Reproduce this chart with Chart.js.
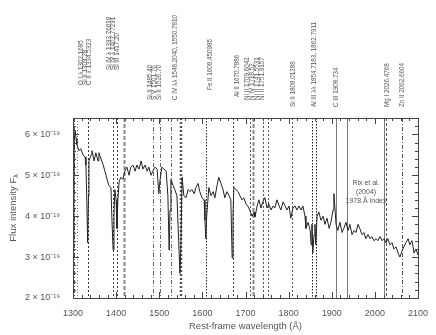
<!DOCTYPE html>
<html>
<head>
<meta charset="utf-8">
<script src="https://cdn.jsdelivr.net/npm/chart.js@4.4.1/dist/chart.umd.min.js"></script>
<style>
  html, body { margin: 0; padding: 0; background: #fff; }
  #wrap { width: 436px; height: 335px; }
</style>
</head>
<body>
<div id="wrap"><canvas id="chartSpec" width="436" height="335"></canvas></div>
<script>
var wavelengths = [
  1300, 1302, 1303, 1305, 1307, 1309, 1314, 1318, 1323, 1328, 1330, 1332, 1334, 1336, 1337,
  1342, 1344, 1349, 1353, 1358, 1360, 1365, 1370, 1374, 1379, 1383, 1388, 1390, 1393, 1395,
  1397, 1400, 1402, 1404, 1407, 1411, 1416, 1420, 1425, 1430, 1434, 1439, 1444, 1448, 1453,
  1458, 1462, 1467, 1472, 1476, 1481, 1485, 1490, 1495, 1499, 1502, 1506, 1511, 1516, 1520,
  1523, 1525, 1527, 1532, 1536, 1541, 1545, 1548, 1550, 1553, 1557, 1562, 1567, 1571, 1576,
  1581, 1585, 1590, 1594, 1599, 1604, 1606, 1608, 1610, 1615, 1620, 1625, 1629, 1634, 1638,
  1643, 1648, 1652, 1657, 1662, 1666, 1669, 1671, 1673, 1678, 1683, 1687, 1692, 1696, 1701,
  1705, 1710, 1715, 1720, 1722, 1727, 1731, 1736, 1740, 1745, 1750, 1754, 1759, 1764, 1768,
  1773, 1778, 1782, 1787, 1792, 1796, 1801, 1805, 1810, 1815, 1819, 1824, 1829, 1833, 1838,
  1840, 1845, 1850, 1852, 1854, 1856, 1859, 1861, 1863, 1866, 1870, 1875, 1880, 1884, 1889,
  1894, 1898, 1903, 1905, 1907, 1910, 1914, 1919, 1924, 1928, 1933, 1938, 1942, 1947, 1952,
  1956, 1961, 1965, 1970, 1975, 1979, 1984, 1989, 1993, 1998, 2003, 2007, 2012, 2017, 2021,
  2026, 2030, 2035, 2040, 2044, 2049, 2054, 2058, 2063, 2067, 2072, 2077, 2081, 2086, 2091,
  2095, 2100
];
var flux = [
  3.25, 4.40, 5.86, 6.10, 5.90, 5.75, 5.60, 5.65, 5.50, 5.45, 5.25, 4.40, 3.35, 4.50, 5.35,
  5.50, 5.60, 5.35, 5.55, 5.35, 5.55, 5.40, 5.25, 5.10, 4.90, 4.75, 4.70, 4.00, 3.17, 4.00,
  4.65, 4.40, 3.70, 4.40, 4.85, 4.95, 4.90, 5.10, 5.20, 5.00, 5.20, 5.25, 5.10, 5.25, 5.15,
  5.35, 5.15, 5.25, 5.10, 5.20, 5.00, 5.10, 5.20, 5.15, 4.55, 4.90, 5.20, 5.15, 5.10, 4.50,
  3.17, 4.15, 4.90, 4.75, 4.65, 4.50, 3.40, 2.60, 3.17, 4.95, 4.50, 4.45, 4.65, 4.60, 4.65,
  4.55, 4.70, 4.80, 4.60, 4.45, 4.40, 3.90, 3.45, 4.00, 4.70, 4.50, 4.60, 4.45, 4.75, 4.95,
  4.80, 4.65, 4.45, 4.60, 4.50, 4.40, 2.98, 4.00, 4.70, 4.65, 4.60, 4.50, 4.40, 4.45, 4.30,
  4.25, 4.15, 4.00, 4.10, 3.98, 4.25, 4.40, 4.20, 4.35, 4.45, 4.20, 4.30, 4.15, 4.25, 4.20,
  4.40, 4.25, 4.15, 4.35, 4.25, 4.15, 4.25, 3.95, 4.20, 4.25, 4.15, 4.25, 4.15, 4.25, 4.00,
  3.70, 3.85, 3.65, 3.30, 3.80, 3.10, 3.55, 3.80, 3.30, 4.00, 4.10, 3.90, 4.00, 3.80, 3.95,
  3.70, 3.85, 4.15, 4.55, 4.25, 3.80, 3.65, 3.85, 3.60, 3.70, 3.85, 3.65, 3.80, 3.55, 3.65,
  3.60, 3.80, 3.70, 3.55, 3.60, 3.45, 3.55, 3.45, 3.50, 3.40, 3.45, 3.40, 3.50, 3.40, 3.45,
  3.35, 3.45, 3.30, 3.35, 3.20, 3.25, 3.10, 3.00, 3.15, 3.25, 3.35, 3.45, 3.30, 3.40, 3.10,
  3.20, 3.05
];

// lineas de absorcion marcadas (A)
var lineWaves = [
  1302.1685, 1309.28, 1334.5323, 1393.76018, 1402.77291, 1417.20, 1485.40, 1501.76, 1526.70,
  1548.2040, 1550.7810, 1608.450985, 1670.7886, 1709.6042, 1718.52, 1741.5531, 1751.9157,
  1808.01288, 1854.7183, 1862.7911, 1908.734, 2026.4768, 2062.6604
];
var lineLabels = [
  'O I λ 1302.1685', 'Si II 1309.28', 'C II λ 1334.5323',
  'Si IV λ 1393.76018', 'Si IV λ 1402.77291', 'Si III 1417.20',
  'Si II 1485.40', 'S V 1501.76', 'Si II 1526.70',
  'C IV λλ 1548.2040, 1550.7810', 'Fe II 1608.450985', 'Al II 1670.7886',
  'Ni II 1709.6042', 'N IV 1718.52', 'Ni II 1741.5531', 'Ni II 1751.9157',
  'Si II 1808.01288', 'Al III λλ 1854.7183, 1862.7911', 'C III 1908.734',
  'Mg I 2026.4768', 'Zn II 2062.6604'
];
// ventana del indice de Rix et al. (2004)
var rixWindow = [1935, 2020];
var rixText = ['Rix et al.', '(2004)', '1978 Å index'];

var xTicks = [1300, 1400, 1500, 1600, 1700, 1800, 1900, 2000, 2100];
var yTicks = [2, 3, 4, 5, 6];

// estilos de cada linea (mismo orden que lineWaves)
var lineStyles = [
  { dash: [4, 2, 1, 2], color: '#555', w: 1 },
  { dash: [1, 2], color: '#777', w: 1 },
  { dash: [2, 2], color: '#333', w: 1 },
  { dash: [2, 2], color: '#444', w: 1 },
  { dash: [2, 2], color: '#444', w: 1 },
  { dash: [4, 2], color: '#888', w: 2 },
  { dash: [4, 2, 1, 2], color: '#666', w: 1 },
  { dash: [4, 2, 1, 2], color: '#666', w: 1 },
  { dash: [4, 2, 1, 2], color: '#666', w: 1 },
  { dash: [2, 2], color: '#555', w: 1.5 },
  { dash: [2, 2], color: '#555', w: 1.5 },
  { dash: [1.5, 1.5], color: '#222', w: 1 },
  { dash: [2, 2], color: '#444', w: 1 },
  { dash: [2, 2], color: '#555', w: 1 },
  { dash: [4, 2], color: '#888', w: 2 },
  { dash: [2, 2], color: '#555', w: 1 },
  { dash: [2, 2], color: '#555', w: 1 },
  { dash: [2, 2], color: '#555', w: 1 },
  { dash: [1.5, 1.5], color: '#222', w: 1 },
  { dash: [1.5, 1.5], color: '#222', w: 1 },
  { dash: [], color: '#777', w: 1 },
  { dash: [3, 2], color: '#555', w: 1 },
  { dash: [4, 2, 1, 2], color: '#555', w: 1 }
];
// columnas (px) y base (px) de las etiquetas verticales
var labelCol = [81, 85, 89, 109, 113, 117, 150, 154, 159, 175, 210, 237, 247, 252, 257, 262, 293, 314, 336, 387, 402];
var labelBase = [85, 85, 85, 70, 70, 70, 100, 100, 100, 100, 90, 97, 100, 100, 100, 100, 107, 107, 107, 107, 107];

var FONT = "'Liberation Sans', Arial, sans-serif";
var TXT = '#555';

var puntos = [];
for (var i = 0; i < wavelengths.length; i++) {
  puntos.push({ x: wavelengths[i], y: flux[i] });
}

var decorPlugin = {
  id: 'specDecor',
  beforeDatasetsDraw: function (chart) {
    var ctx = chart.ctx, a = chart.chartArea, xs = chart.scales.x;
    ctx.save();
    for (var i = 0; i < lineWaves.length; i++) {
      var st = lineStyles[i];
      var px = Math.round(xs.getPixelForValue(lineWaves[i])) + 0.5;
      ctx.strokeStyle = st.color;
      ctx.lineWidth = st.w;
      ctx.setLineDash(st.dash);
      ctx.beginPath();
      ctx.moveTo(px, a.top);
      ctx.lineTo(px, a.bottom);
      ctx.stroke();
    }
    ctx.setLineDash([]);
    ctx.strokeStyle = '#777';
    ctx.lineWidth = 1;
    for (var j = 0; j < rixWindow.length; j++) {
      var rx = Math.round(xs.getPixelForValue(rixWindow[j])) + 0.5;
      ctx.beginPath();
      ctx.moveTo(rx, a.top);
      ctx.lineTo(rx, a.bottom);
      ctx.stroke();
    }
    ctx.restore();
  },
  afterDraw: function (chart) {
    var ctx = chart.ctx, a = chart.chartArea, xs = chart.scales.x, ys = chart.scales.y;
    ctx.save();
    // caja
    ctx.strokeStyle = '#444';
    ctx.lineWidth = 1;
    ctx.strokeRect(Math.round(a.left) + 0.5, Math.round(a.top) + 0.5,
      Math.round(a.right - a.left), Math.round(a.bottom - a.top));
    // ticks hacia dentro
    ctx.beginPath();
    for (var v = 1300; v <= 2100; v += 20) {
      var px = Math.round(xs.getPixelForValue(v)) + 0.5;
      var len = (v % 100 === 0) ? 6 : 3;
      ctx.moveTo(px, a.bottom); ctx.lineTo(px, a.bottom - len);
      ctx.moveTo(px, a.top); ctx.lineTo(px, a.top + len);
    }
    for (var k = 0; k <= 22; k++) {
      var val = 2 + k * 0.2;
      var py = Math.round(ys.getPixelForValue(val)) + 0.5;
      var l2 = (k % 5 === 0) ? 6 : 3;
      ctx.moveTo(a.left, py); ctx.lineTo(a.left + l2, py);
      ctx.moveTo(a.right, py); ctx.lineTo(a.right - l2, py);
    }
    ctx.stroke();

    // etiquetas verticales de las lineas
    ctx.fillStyle = TXT;
    ctx.font = '6.3px ' + FONT;
    ctx.textAlign = 'left';
    ctx.textBaseline = 'middle';
    for (var i = 0; i < lineLabels.length; i++) {
      ctx.save();
      ctx.translate(labelCol[i], labelBase[i]);
      ctx.rotate(-Math.PI / 2);
      ctx.fillText(lineLabels[i], 0, 0);
      ctx.restore();
    }

    // anotacion Rix
    ctx.font = '7px ' + FONT;
    ctx.textAlign = 'center';
    for (var r = 0; r < rixText.length; r++) {
      ctx.fillText(rixText[r], 366, 183 + r * 9);
    }

    // titulo eje x
    ctx.font = '9.5px ' + FONT;
    ctx.textAlign = 'center';
    ctx.fillText('Rest-frame wavelength (Å)', (a.left + a.right) / 2, 326);

    // titulo eje y con subindice
    ctx.save();
    ctx.translate(13, (a.top + a.bottom) / 2);
    ctx.rotate(-Math.PI / 2);
    ctx.font = '9.5px ' + FONT;
    var t1 = 'Flux intensity F';
    var w1 = ctx.measureText(t1).width;
    ctx.font = '7px ' + FONT;
    var w2 = ctx.measureText('λ').width;
    var x0 = -(w1 + w2) / 2;
    ctx.font = '9.5px ' + FONT;
    ctx.textAlign = 'left';
    ctx.fillText(t1, x0, 0);
    ctx.font = '7px ' + FONT;
    ctx.fillText('λ', x0 + w1, 3);
    ctx.restore();

    ctx.restore();
  }
};

new Chart(document.getElementById('chartSpec'), {
  type: 'line',
  data: {
    datasets: [{
      data: puntos,
      borderColor: '#222',
      borderWidth: 1,
      pointRadius: 0,
      tension: 0
    }]
  },
  options: {
    responsive: false,
    animation: false,
    devicePixelRatio: 1,
    layout: { padding: { top: 118, right: 18, left: 0, bottom: 0 } },
    plugins: { legend: { display: false }, tooltip: { enabled: false } },
    scales: {
      x: {
        type: 'linear',
        min: 1300,
        max: 2100,
        afterFit: function (s) { s.height = 37; },
        afterBuildTicks: function (s) { s.ticks = xTicks.map(function (v) { return { value: v }; }); },
        grid: { display: false },
        border: { display: false },
        ticks: {
          color: TXT, font: { family: FONT, size: 9 }, padding: 2, maxRotation: 0,
          callback: function (v) { return String(v); }
        }
      },
      y: {
        type: 'linear',
        min: 2,
        max: 6.4,
        afterFit: function (s) { s.width = 73; },
        afterBuildTicks: function (s) { s.ticks = yTicks.map(function (v) { return { value: v }; }); },
        grid: { display: false },
        border: { display: false },
        ticks: {
          color: TXT, font: { family: FONT, size: 9 }, padding: 5,
          callback: function (v) { return v + ' × 10⁻¹⁹'; }
        }
      }
    }
  },
  plugins: [decorPlugin]
});
</script>
</body>
</html>
